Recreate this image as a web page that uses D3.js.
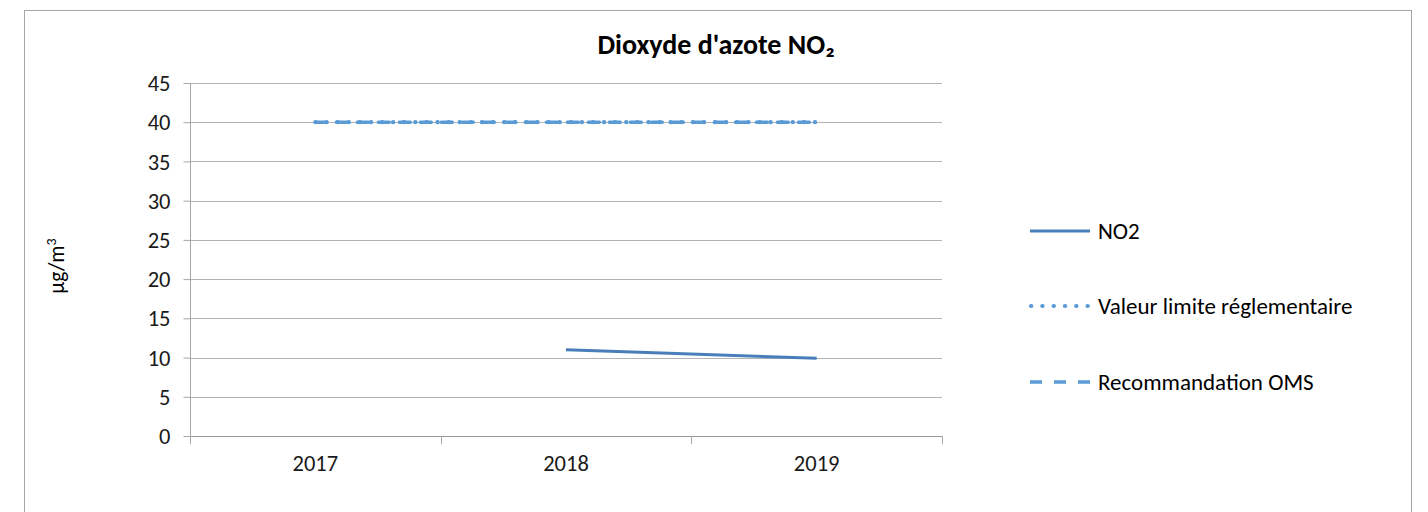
<!DOCTYPE html>
<html><head><meta charset="utf-8">
<script src="https://cdn.jsdelivr.net/npm/d3@7"></script>
<style>body{margin:0;background:#fff}svg{display:block}text{font-family:Carlito,Calibri,"Open Sans",sans-serif}</style>
</head><body><svg id="c" width="1428" height="512"></svg>
<script>
const categories = ["2017","2018","2019"];
const no2 = [null, 11.0, 9.9];
const limite = [40, 40, 40];
const oms = [40, 40, 40];
const yTicks = [0,5,10,15,20,25,30,35,40,45];
const legendLabels = ["NO2","Valeur limite réglementaire","Recommandation OMS"];

const svg = d3.select("#c");
// chart border
svg.append("rect").attr("x",24.5).attr("y",10.5).attr("width",1387).attr("height",520)
  .attr("fill","#fff").attr("stroke","#a6a6a6").attr("stroke-width",1);

const L=190,R=942,T=83,B=436;
const x = d3.scaleBand().domain(categories).range([L,R]);
const y = d3.scaleLinear().domain([0,45]).range([B,T]);
const cx = d => x(d)+x.bandwidth()/2;

// gridlines
svg.append("g").selectAll("line").data(yTicks.filter(v=>v>0)).join("line")
  .attr("x1",L).attr("x2",R).attr("y1",d=>Math.round(y(d))+0.5).attr("y2",d=>Math.round(y(d))+0.5)
  .attr("stroke","#b3b3b3").attr("stroke-width",1);

// y axis
const ya = svg.append("g").attr("transform",`translate(${L+0.5},0)`)
  .call(d3.axisLeft(y).tickValues(yTicks).tickSize(7).tickPadding(13).tickFormat(d3.format("d")));
ya.select(".domain").attr("stroke","#a6a6a6").attr("d",`M0,${T}V${B}`);
ya.selectAll(".tick line").attr("stroke","#a6a6a6");
ya.selectAll(".tick text").attr("font-size",22.5).attr("fill","#1a1a1a").attr("dy","0.34em");

// x axis
const xa = svg.append("g").attr("transform",`translate(0,${B+0.5})`)
  .call(d3.axisBottom(x).tickSize(0).tickPadding(19));
xa.select(".domain").attr("stroke","#999").attr("d",`M${L},0H${R}`);
xa.selectAll(".tick text").attr("font-size",22.5).attr("fill","#1a1a1a");
const bounds = categories.map(c=>x(c)).concat([R]);
svg.append("g").selectAll("line").data(bounds).join("line")
  .attr("x1",d=>Math.round(d)+0.5).attr("x2",d=>Math.round(d)+0.5)
  .attr("y1",B).attr("y2",B+8).attr("stroke","#a6a6a6");

const line = d3.line().defined(d=>d.v!=null).x(d=>cx(d.c)).y(d=>y(d.v));
const mk = arr => categories.map((c,i)=>({c,v:arr[i]}));

svg.append("path").datum(mk(oms)).attr("d",line).attr("fill","none")
  .attr("stroke","#5B9BD5").attr("stroke-width",3.5).attr("stroke-linecap","round").attr("stroke-dasharray","11,10");
svg.append("path").datum(mk(limite)).attr("d",line).attr("fill","none")
  .attr("stroke","#5B9BD5").attr("stroke-width",4.2).attr("stroke-linecap","round").attr("stroke-dasharray","0.3,10.8");
svg.append("path").datum(mk(no2)).attr("d",line).attr("fill","none")
  .attr("stroke","#4A7EBB").attr("stroke-width",3);

// title
svg.append("text").attr("x",716).attr("y",54).attr("text-anchor","middle")
  .attr("font-size",28).attr("font-weight","bold").attr("fill","#000").text("Dioxyde d'azote NO₂");

// y label
svg.append("text").attr("transform","translate(64,266) rotate(-90)").attr("text-anchor","middle")
  .attr("font-size",21.5).attr("fill","#000").html('µg/m<tspan dy="-8" font-size="14">3</tspan>');

// legend
const ly = [231,306,382];
const lg = svg.append("g").selectAll("g").data(legendLabels).join("g")
  .attr("transform",(d,i)=>`translate(0,${ly[i]})`);
lg.append("line").attr("x1",(d,i)=>i==1?1031:1030).attr("x2",(d,i)=>i==1?1088:1090).attr("y1",0).attr("y2",0)
  .attr("stroke",(d,i)=>i==0?"#4A7EBB":"#5B9BD5")
  .attr("stroke-width",(d,i)=>i==0?3:(i==1?4.2:3.5))
  .attr("stroke-linecap",(d,i)=>i==1?"round":"butt")
  .attr("stroke-dasharray",(d,i)=>i==0?null:(i==1?"0.3,11":"12,12"));
lg.append("text").attr("x",1098).attr("y",8).attr("font-size",23).attr("fill","#000").text(d=>d);
</script></body></html>
